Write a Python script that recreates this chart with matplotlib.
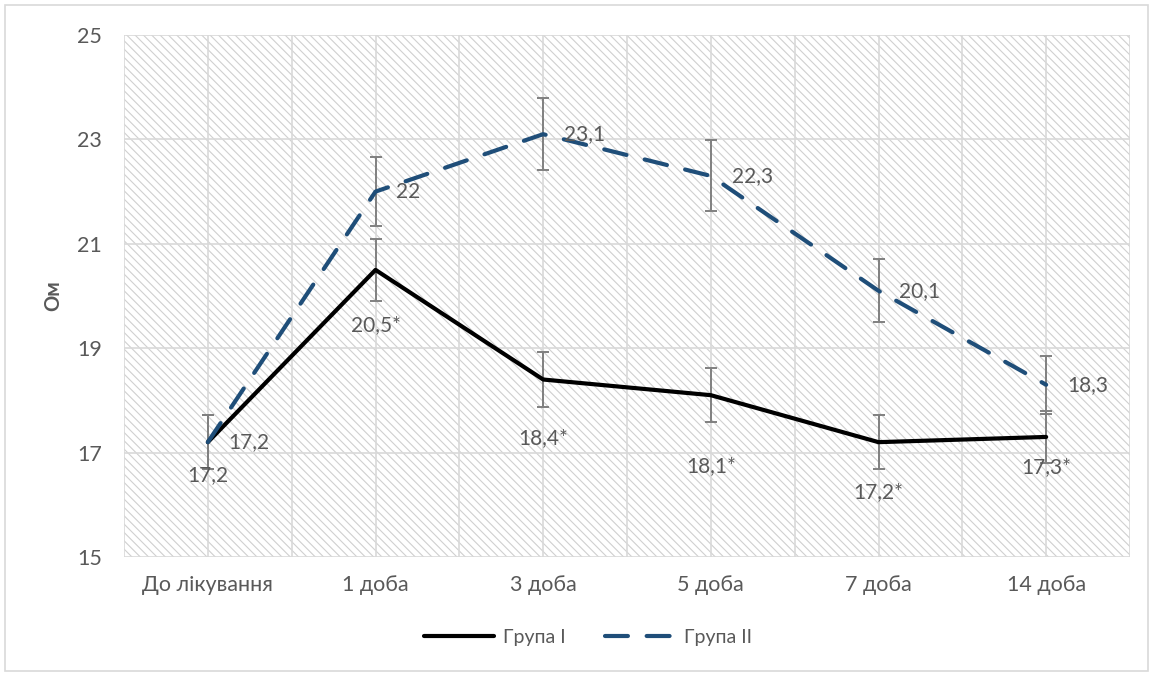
import numpy as np
import matplotlib.pyplot as plt
from matplotlib.patches import Rectangle

# Data
categories = ["До лікування", "1 доба", "3 доба", "5 доба", "7 доба", "14 доба"]
group1 = [17.2, 20.5, 18.4, 18.1, 17.2, 17.3]
group1_err = [0.52, 0.6, 0.53, 0.52, 0.52, 0.5]
group1_labels = ["17,2", "20,5*", "18,4*", "18,1*", "17,2*", "17,3*"]
group2 = [17.2, 22.0, 23.1, 22.3, 20.1, 18.3]
group2_err = [0.52, 0.66, 0.69, 0.68, 0.6, 0.56]
group2_labels = ["17,2", "22", "23,1", "22,3", "20,1", "18,3"]
yticks = [15, 17, 19, 21, 23, 25]

# label offsets below Group I points (points), as placed in the original
g1_label_dy = [-24, -40, -42, -51, -36, -22]

plt.rcParams['font.family'] = ['Lato', 'DejaVu Sans']
plt.rcParams['hatch.linewidth'] = 0.8
text_color = "#595959"

fig = plt.figure(figsize=(11.53, 6.75), dpi=100)
ax = fig.add_axes([124 / 1153, 1 - 557 / 675, (1130 - 124) / 1153, (557 - 35) / 675])

# outer chart border
fig.patches.append(Rectangle((5 / 1153, 4 / 675), 1143 / 1153, 666 / 675,
                             transform=fig.transFigure, fill=False,
                             edgecolor="#d9d9d9", linewidth=1.2))

# hatched plot background
ax.add_patch(Rectangle((0, 0), 1, 1, transform=ax.transAxes, facecolor="white",
                       edgecolor="#d0d0d0", hatch="\\\\\\\\", linewidth=0, zorder=0))

x = np.arange(len(categories))

ax.errorbar(x, group1, yerr=group1_err, fmt="none", ecolor="#808080",
            elinewidth=1.4, capsize=4.5, capthick=1.4, zorder=3)
ax.errorbar(x, group2, yerr=group2_err, fmt="none", ecolor="#808080",
            elinewidth=1.4, capsize=4.5, capthick=1.4, zorder=3)

ax.plot(x, group1, color="black", linewidth=3, label="Група I", zorder=4,
        solid_capstyle="round")
ax.plot(x, group2, color="#1f4e79", linewidth=3, label="Група II", zorder=4,
        dashes=(5.5, 4.5), dash_capstyle="round")

for xi, v, t, dy in zip(x, group1, group1_labels, g1_label_dy):
    ax.annotate(t, (xi, v), xytext=(0, dy), textcoords="offset points",
                ha="center", va="center", fontsize=15, color=text_color, zorder=5)
for xi, v, t in zip(x, group2, group2_labels):
    ax.annotate(t, (xi, v), xytext=(15, 0), textcoords="offset points",
                ha="left", va="center", fontsize=15, color=text_color, zorder=5)

ax.set_xlim(-0.5, len(categories) - 0.5)
ax.set_ylim(15, 25)
ax.set_yticks(yticks)
ax.set_xticks(x)
ax.set_xticklabels(categories)
ax.set_xticks(np.arange(-0.5, len(categories), 1.0), minor=True)
ax.tick_params(axis="both", which="both", length=0, labelsize=15.5,
               colors=text_color)
ax.tick_params(axis="x", pad=13)
ax.tick_params(axis="y", pad=16)
ax.grid(True, which="both", color="#d9d9d9", linewidth=1.2, zorder=1)
ax.set_axisbelow(True)
for s in ax.spines.values():
    s.set_visible(False)

ax.set_ylabel("Ом", fontsize=14.5, fontweight="bold", color=text_color, labelpad=10)

ax.legend(loc="center", bbox_to_anchor=(588 / 1153, 1 - 637 / 675),
          bbox_transform=fig.transFigure, ncol=2, frameon=False,
          fontsize=14, labelcolor=text_color, handlelength=3.6,
          handletextpad=0.5, columnspacing=2.0)

fig.savefig("out.png", dpi=100)
